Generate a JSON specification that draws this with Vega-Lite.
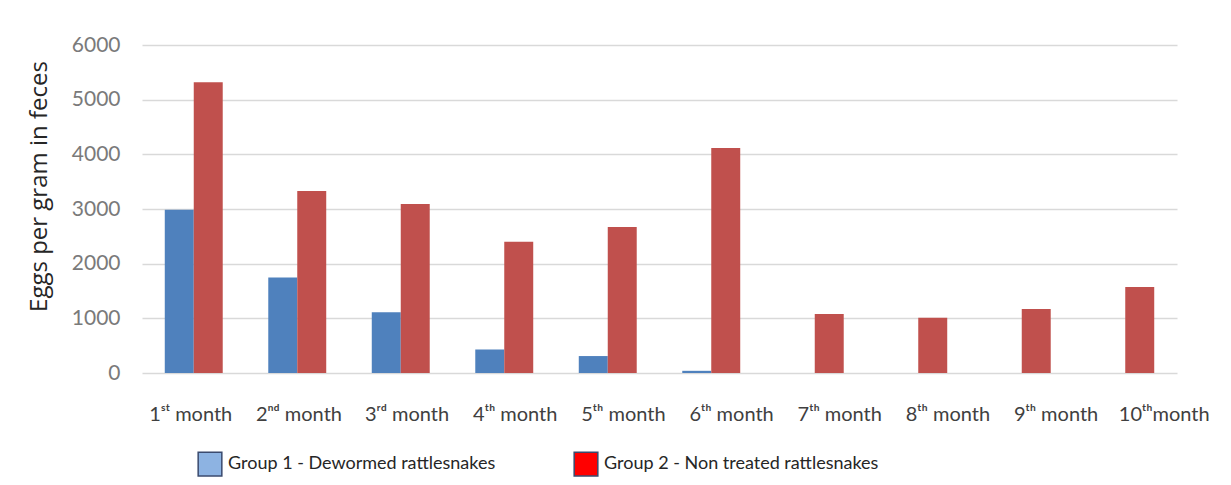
{
  "$schema": "https://vega.github.io/schema/vega-lite/v6.json",
  "autosize": {"type": "none"},
  "width": 1035,
  "height": 328,
  "padding": {"left": 142, "top": 45, "right": 54, "bottom": 112},
  "background": "#ffffff",
  "config": {"view": {"stroke": null}, "font": "Lato"},
  "data": {"values": [
    {"month": "1ˢᵗ month", "group": "Group 1 - Dewormed rattlesnakes", "epg": 2985},
    {"month": "1ˢᵗ month", "group": "Group 2 - Non treated rattlesnakes", "epg": 5320},
    {"month": "2ⁿᵈ month", "group": "Group 1 - Dewormed rattlesnakes", "epg": 1745},
    {"month": "2ⁿᵈ month", "group": "Group 2 - Non treated rattlesnakes", "epg": 3330},
    {"month": "3ʳᵈ month", "group": "Group 1 - Dewormed rattlesnakes", "epg": 1110},
    {"month": "3ʳᵈ month", "group": "Group 2 - Non treated rattlesnakes", "epg": 3090},
    {"month": "4ᵗʰ month", "group": "Group 1 - Dewormed rattlesnakes", "epg": 430},
    {"month": "4ᵗʰ month", "group": "Group 2 - Non treated rattlesnakes", "epg": 2400},
    {"month": "5ᵗʰ month", "group": "Group 1 - Dewormed rattlesnakes", "epg": 310},
    {"month": "5ᵗʰ month", "group": "Group 2 - Non treated rattlesnakes", "epg": 2670},
    {"month": "6ᵗʰ month", "group": "Group 1 - Dewormed rattlesnakes", "epg": 40},
    {"month": "6ᵗʰ month", "group": "Group 2 - Non treated rattlesnakes", "epg": 4115},
    {"month": "7ᵗʰ month", "group": "Group 1 - Dewormed rattlesnakes", "epg": 0},
    {"month": "7ᵗʰ month", "group": "Group 2 - Non treated rattlesnakes", "epg": 1080},
    {"month": "8ᵗʰ month", "group": "Group 1 - Dewormed rattlesnakes", "epg": 0},
    {"month": "8ᵗʰ month", "group": "Group 2 - Non treated rattlesnakes", "epg": 1010},
    {"month": "9ᵗʰ month", "group": "Group 1 - Dewormed rattlesnakes", "epg": 0},
    {"month": "9ᵗʰ month", "group": "Group 2 - Non treated rattlesnakes", "epg": 1170},
    {"month": "10ᵗʰmonth", "group": "Group 1 - Dewormed rattlesnakes", "epg": 0},
    {"month": "10ᵗʰmonth", "group": "Group 2 - Non treated rattlesnakes", "epg": 1575}
  ]},
  "layer": [
    {
      "mark": {"type": "bar"},
      "encoding": {
        "x": {
          "field": "month", "type": "nominal", "sort": null,
          "scale": {"paddingInner": 0.44, "paddingOuter": 0.22},
          "axis": {"title": null, "labelAngle": 0, "domain": false, "ticks": false, "labelPadding": 31,
                   "labelFontSize": 20, "labelColor": "#404040", "labelFont": "Lato",
                   "labelOffset": {"expr": "datum.index * 42 - 3"}}
        },
        "xOffset": {"field": "group", "type": "nominal", "scale": {"paddingInner": 0, "paddingOuter": 0}},
        "y": {
          "field": "epg", "type": "quantitative",
          "scale": {"domain": [0, 6000], "nice": false},
          "axis": {"title": "Eggs per gram in feces", "values": [0, 1000, 2000, 3000, 4000, 5000, 6000],
                   "format": "d",
                   "domain": false, "ticks": false, "labelPadding": 22, "labelFontSize": 21,
                   "labelColor": "#7a7a7a", "labelFont": "Lato", "gridColor": "#d9d9d9", "gridWidth": 1.5,
                   "titleFontSize": 24, "titleFontWeight": "normal", "titleColor": "#262626",
                   "titleFont": "Open Sans", "titlePadding": 20, "titleY": 141}
        },
        "color": {
          "field": "group", "type": "nominal",
          "scale": {"range": ["#4f81bd", "#c0504d"]},
          "legend": null
        }
      }
    },
    {
      "transform": [{"filter": "datum.epg < 0"}],
      "mark": {"type": "bar", "stroke": "#3a4a6e", "strokeWidth": 1.5},
      "encoding": {
        "fill": {
          "field": "group", "type": "nominal",
          "scale": {"domain": ["Group 1 - Dewormed rattlesnakes", "Group 2 - Non treated rattlesnakes"],
                    "range": ["#8db3e2", "#ff0000"]},
          "legend": {
            "orient": "none", "legendX": 55, "legendY": 406, "direction": "horizontal",
            "title": null, "symbolType": "square", "symbolSize": 560, "labelFontSize": 18, "labelLimit": 0,
            "labelFont": "Lato", "labelColor": "#262626", "columnPadding": 75, "labelOffset": 5,
            "symbolStrokeWidth": 1.5, "symbolOpacity": 1
          }
        }
      }
    }
  ]
}
